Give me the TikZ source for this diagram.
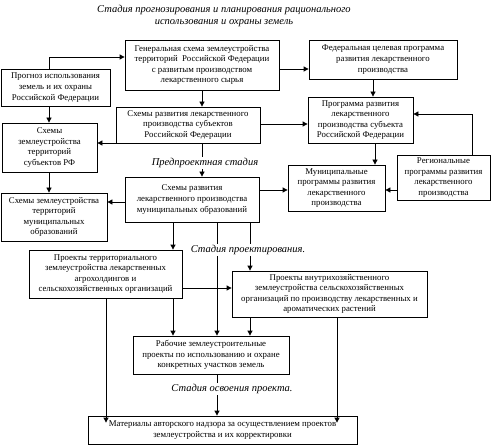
\documentclass[tikz,border=0pt]{standalone}
\usepackage{fontspec}
\setmainfont{Liberation Serif}
\usetikzlibrary{arrows.meta}
\begin{document}
\begin{tikzpicture}[x=1pt,y=-1pt,
  box/.style={draw,line width=0.8pt,align=center,inner sep=0pt,font=\fontsize{8.8}{10.6}\selectfont},
  arr/.style={line width=0.8pt,-{Triangle[length=5pt,width=5pt]}},
  ln/.style={line width=0.8pt},
  stage/.style={fill=white,inner sep=1pt,font=\fontsize{10.5}{12}\selectfont\itshape,align=center}]
\useasboundingbox (0,0) rectangle (492,446);
% boxes
\node[box,minimum width=109pt,minimum height=37pt] (b1) at (55.5,87.5) {Прогноз использования\\земель и их охраны\\Российской Федерации};
\node[box,minimum width=154pt,minimum height=50pt] (b2) at (202,65) {Генеральная схема землеустройства\\территорий\ \ Российской Федерации\\с развитым производством\\лекарственного сырья};
\node[box,minimum width=148pt,minimum height=39pt] (b3) at (383,59.5) {Федеральная целевая программа\\развития лекарственного\\производства};
\node[box,minimum width=105pt,minimum height=46pt] (b4) at (360.5,120) {Программа развития\\лекарственного\\производства субъекта\\Российской Федерации};
\node[box,minimum width=144pt,minimum height=36pt] (b5) at (188,125) {Схемы развития лекарственного\\производства субъектов\\Российской Федерации};
\node[box,minimum width=95pt,minimum height=49pt] (b6) at (49.5,147.5) {Схемы\\землеустройства\\территорий\\субъектов РФ};
\node[box,minimum width=134pt,minimum height=45pt] (b7) at (192,199.5) {Схемы развития\\лекарственного производства\\муниципальных образований};
\node[box,minimum width=106pt,minimum height=48pt] (b8) at (54,217) {Схемы землеустройства\\территорий\\муниципальных\\образований};
\node[box,minimum width=97pt,minimum height=46pt] (b9) at (336.5,188) {Муниципальные\\программы развития\\лекарственного\\производства};
\node[box,minimum width=93pt,minimum height=45pt] (b10) at (443.5,177.5) {Региональные\\программы развития\\лекарственного\\производства};
\node[box,minimum width=153pt,minimum height=48pt] (b11) at (105.5,274) {Проекты территориального\\землеустройства лекарственных\\агрохолдингов и\\сельскохозяйственных организаций};
\node[box,minimum width=195pt,minimum height=46pt] (b12) at (329.5,294) {Проекты внутрихозяйственного\\землеустройства сельскохозяйственных\\организаций по производству лекарственных и\\ароматических растений};
\node[box,minimum width=156pt,minimum height=38pt] (b13) at (211,355) {Рабочие землеустроительные\\проекты по использованию и охране\\конкретных участков земель};
\node[box,minimum width=269pt,minimum height=28pt] (b14) at (222.5,430) {Материалы авторского надзора за осуществлением проектов\\землеустройства и их корректировки};
% x guides
\coordinate (x49) at (49,0);
\coordinate (x106) at (106,0);
\coordinate (x173) at (173,0);
\coordinate (x202) at (202,0);
\coordinate (x217) at (217,0);
\coordinate (x250) at (250,0);
\coordinate (x337) at (337,0);
\coordinate (x373) at (373,0);
\coordinate (x375) at (375,0);
\coordinate (x472) at (472,0);
\coordinate (y57) at (0,57);
\coordinate (y69) at (0,69);
\coordinate (y114) at (0,114);
\coordinate (y124) at (0,124);
\coordinate (y143) at (0,143);
\coordinate (y190) at (0,190);
\coordinate (y202) at (0,202);
\coordinate (y288) at (0,288);
% connectors
\draw[arr] (b1.north -| x49) -- (x49 |- y57) -- (b2.west |- y57);
\draw[arr] (b2.east |- y69) -- (b3.west |- y69);
\draw[arr] (b3.south -| x373) -- (b4.north -| x373);
\draw[arr] (b2.south -| x202) -- (b5.north -| x202);
\draw[arr] (b5.east |- y124) -- (b4.west |- y124);
\draw[arr] (b5.west |- y143) -- (b6.east |- y143);
\draw[arr] (b1.south -| x49) -- (b6.north -| x49);
\draw[arr] (b6.south -| x49) -- (b8.north -| x49);
\draw[arr] (b7.west |- y202) -- (b8.east |- y202);
\draw[arr] (b7.east |- y190) -- (b9.west |- y190);
\draw[arr] (b4.south -| x375) -- (b9.north -| x375);
\draw[arr] (b10.west |- y190) -- (b9.east |- y190);
\draw[arr] (b10.north -| x472) -- (x472 |- y114) -- (b4.east |- y114);
\draw[arr] (b5.south -| x202) -- (b7.north -| x202);
\draw[arr] (b7.south -| x173) -- (b11.north -| x173);
\draw[arr] (b7.south -| x250) -- (b12.north -| x250);
\draw[arr] (b7.south -| x217) -- (b13.north -| x217);
\draw[arr] (b11.east |- y288) -- (b12.west |- y288);
\draw[arr] (b11.south -| x173) -- (b13.north -| x173);
\draw[arr] (b12.south -| x250) -- (b13.north -| x250);
\draw[arr] (b11.south -| x106) -- ([yshift=-7pt]b14.north -| x106);
\draw[arr] (b12.south -| x337) -- ([yshift=-7pt]b14.north -| x337);
\draw[arr] (b13.south -| x217) -- (b14.north -| x217);
% stage labels
\node[stage] (t0) at (224,16) {Стадия прогнозирования и планирования рационального\\использования и охраны земель};
\node[stage] (t1) at (205,163) {Предпроектная стадия};
\node[stage] (t2) at (248,250) {Стадия проектирования.};
\node[stage] (t3) at (232,389) {Стадия освоения проекта.};
\end{tikzpicture}
\end{document}
